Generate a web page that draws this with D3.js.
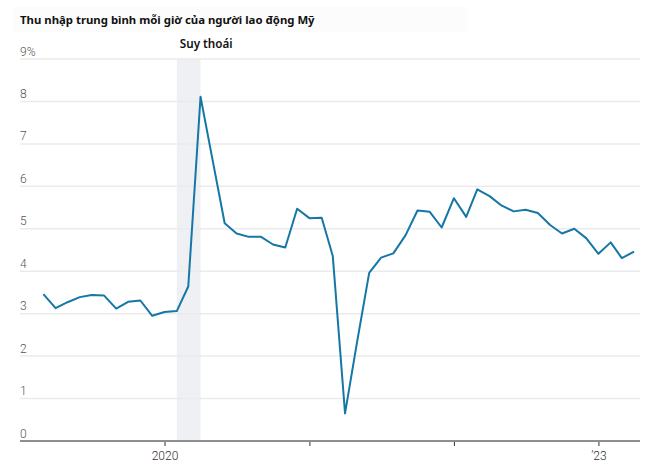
<!DOCTYPE html>
<html>
<head>
<meta charset="utf-8">
<script src="https://cdn.jsdelivr.net/npm/d3@7"></script>
<style>
  body { margin: 0; background: #fff; }
  svg { display: block; }
</style>
</head>
<body>
<svg id="chart" width="653" height="473"></svg>
<script>
// ---- data ----
const titleText = "Thu nhập trung bình mỗi giờ của người lao động Mỹ";
const recessionLabel = "Suy thoái";
const recessionStart = "2020-02";
const recessionEnd = "2020-04";
const months = [
  "2019-03","2019-04","2019-05","2019-06","2019-07","2019-08","2019-09","2019-10","2019-11","2019-12",
  "2020-01","2020-02","2020-03","2020-04","2020-05","2020-06","2020-07","2020-08","2020-09","2020-10","2020-11","2020-12",
  "2021-01","2021-02","2021-03","2021-04","2021-05","2021-06","2021-07","2021-08","2021-09","2021-10","2021-11","2021-12",
  "2022-01","2022-02","2022-03","2022-04","2022-05","2022-06","2022-07","2022-08","2022-09","2022-10","2022-11","2022-12",
  "2023-01","2023-02","2023-03","2023-04"
];
const wageGrowth = [
  3.46, 3.13, 3.27, 3.39, 3.44, 3.43, 3.12, 3.28, 3.31, 2.95,
  3.04, 3.06, 3.64, 8.11, 6.64, 5.13, 4.89, 4.81, 4.81, 4.63, 4.56, 5.47,
  5.25, 5.26, 4.36, 0.65, 2.31, 3.96, 4.32, 4.42, 4.85, 5.43, 5.40, 5.03,
  5.72, 5.28, 5.93, 5.77, 5.55, 5.41, 5.45, 5.37, 5.09, 4.89, 5.00, 4.78,
  4.41, 4.68, 4.31, 4.46
];
const yTicks = [0, 1, 2, 3, 4, 5, 6, 7, 8, 9];
const yTickLabels = ["0", "1", "2", "3", "4", "5", "6", "7", "8", "9%"];
const xTickYears = ["2020", "2021", "2022", "2023"];
const xTickLabels = ["2020", "", "", "’23"];
const xDomain = ["2019-01-01", "2023-04-16"];

// ---- layout ----
const svg = d3.select("#chart");
const parseMonth = d3.timeParse("%Y-%m");
const parseDay = d3.timeParse("%Y-%m-%d");
const data = months.map((m, i) => ({ date: parseMonth(m), value: wageGrowth[i] }));

const mLeft = 20, mRight = 640, mTop = 59, mBottom = 441;
const x = d3.scaleTime().domain(xDomain.map(parseDay)).range([mLeft, mRight]);
const y = d3.scaleLinear().domain([0, 9]).range([mBottom, mTop]);

// faint title background
svg.append("rect").attr("x", 14).attr("y", 7).attr("width", 454).attr("height", 25).attr("fill", "#fcfcfc");

// title
const title = svg.append("text")
  .attr("x", 20).attr("y", 24)
  .attr("font-family", "'Noto Sans', sans-serif")
  .attr("font-weight", 700)
  .attr("font-size", 13)
  .attr("fill", "#111")
  .text(titleText);
{
  const w = title.node().getComputedTextLength();
  title.attr("font-size", 13 * 295 / w);
}

// recession band
svg.append("rect")
  .attr("x", x(parseMonth(recessionStart)))
  .attr("y", mTop)
  .attr("width", x(parseMonth(recessionEnd)) - x(parseMonth(recessionStart)))
  .attr("height", mBottom - mTop)
  .attr("fill", "#eef0f3");

const rl = svg.append("text")
  .attr("x", x(parseMonth(recessionStart)) + 3)
  .attr("y", 48)
  .attr("font-family", "'Noto Sans', sans-serif")
  .attr("font-weight", 600)
  .attr("font-size", 12.5)
  .attr("fill", "#111")
  .text(recessionLabel);
{
  const w = rl.node().getComputedTextLength();
  rl.attr("font-size", 12.5 * 53 / w);
}

// gridlines
svg.append("g").selectAll("line")
  .data(yTicks.filter(d => d > 0))
  .join("line")
  .attr("x1", mLeft).attr("x2", mRight)
  .attr("y1", d => y(d)).attr("y2", d => y(d))
  .attr("stroke", "#ebebeb").attr("stroke-width", 1.5);

// y labels
svg.append("g").selectAll("text")
  .data(yTicks)
  .join("text")
  .attr("x", mLeft)
  .attr("y", d => y(d) - 3.5)
  .attr("font-family", "Roboto, 'Noto Sans', sans-serif")
  .attr("font-weight", 300)
  .attr("font-size", 12)
  .attr("fill", "#555")
  .text((d, i) => yTickLabels[i]);

// x axis
const xAxis = d3.axisBottom(x)
  .tickValues(xTickYears.map(d => d3.timeParse("%Y")(d)))
  .tickSize(5)
  .tickPadding(5)
  .tickFormat((d, i) => xTickLabels[i]);
const gx = svg.append("g").attr("transform", `translate(0,${mBottom})`).call(xAxis);
gx.select(".domain").remove();
gx.selectAll(".tick line").attr("stroke", "#333").attr("stroke-width", 1);
gx.selectAll(".tick text")
  .attr("font-family", "Roboto, 'Noto Sans', sans-serif")
  .attr("font-weight", 300)
  .attr("font-size", 12)
  .attr("fill", "#333");
svg.append("line")
  .attr("x1", mLeft).attr("x2", mRight)
  .attr("y1", mBottom).attr("y2", mBottom)
  .attr("stroke", "#8f8f8f").attr("stroke-width", 2);

// line
const line = d3.line().x(d => x(d.date)).y(d => y(d.value));
svg.append("path")
  .datum(data)
  .attr("d", line)
  .attr("fill", "none")
  .attr("stroke", "#1577a6")
  .attr("stroke-width", 2)
  .attr("stroke-linejoin", "round");
</script>
</body>
</html>
